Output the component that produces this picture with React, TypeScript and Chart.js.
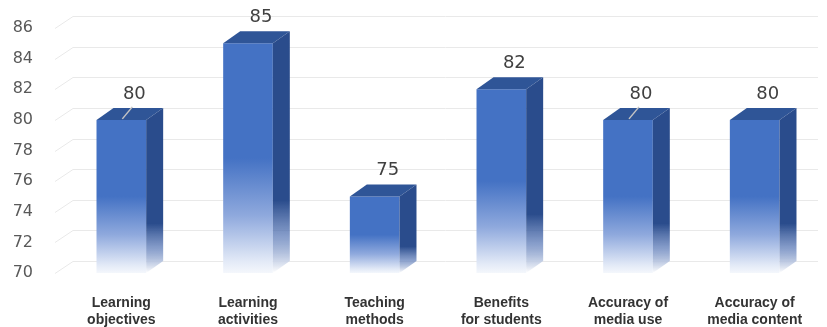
import { useEffect, useRef } from "react";
import { Chart, registerables } from "chart.js";

Chart.register(...registerables);

const categories: string[][] = [
  ["Learning", "objectives"],
  ["Learning", "activities"],
  ["Teaching", "methods"],
  ["Benefits", "for students"],
  ["Accuracy of", "media use"],
  ["Accuracy of", "media content"],
];
const values: number[] = [80, 85, 75, 82, 80, 80];
const yTicks: number[] = [70, 72, 74, 76, 78, 80, 82, 84, 86];
const leaderLines: boolean[] = [true, false, false, false, true, false];

const DX = 17;
const DY = -12;
const FRONT = "#4472C4";
const TOP = "#2F5597";
const SIDE = "#2A4C8C";

const threeD = {
  id: "threeD",
  beforeDatasetsDraw(chart: any) {
    const { ctx, chartArea, scales } = chart;
    const y = scales.y;
    ctx.save();
    ctx.strokeStyle = "#e9e9e9";
    ctx.lineWidth = 1;
    y.ticks.forEach((t: any) => {
      const py = Math.round(y.getPixelForValue(t.value)) + 0.5;
      ctx.beginPath();
      ctx.moveTo(chartArea.left - 3, py);
      ctx.lineTo(chartArea.left - 3 + DX + 1, py + DY);
      ctx.lineTo(chartArea.right, py + DY);
      ctx.stroke();
    });
    ctx.restore();
  },
  afterDatasetsDraw(chart: any) {
    const { ctx, scales } = chart;
    const ys = scales.y;
    const base = ys.getPixelForValue(ys.min);
    const meta = chart.getDatasetMeta(0);
    ctx.save();
    meta.data.forEach((el: any, i: number) => {
      const { x, y, width } = el.getProps(["x", "y", "width"], true);
      const l = x - width / 2;
      const r = x + width / 2;
      // top face
      ctx.fillStyle = TOP;
      ctx.beginPath();
      ctx.moveTo(l, y);
      ctx.lineTo(l + DX, y + DY);
      ctx.lineTo(r + DX, y + DY);
      ctx.lineTo(r, y);
      ctx.closePath();
      ctx.fill();
      // side face
      const g = ctx.createLinearGradient(0, y + DY, 0, base);
      g.addColorStop(0, SIDE);
      g.addColorStop(0.7, SIDE);
      g.addColorStop(0.85, "rgba(95,125,185,0.75)");
      g.addColorStop(1, "rgba(255,255,255,1)");
      ctx.fillStyle = g;
      ctx.beginPath();
      ctx.moveTo(r, y);
      ctx.lineTo(r + DX, y + DY);
      ctx.lineTo(r + DX, base + DY);
      ctx.lineTo(r, base);
      ctx.closePath();
      ctx.fill();
      // leader line
      if (leaderLines[i]) {
        ctx.strokeStyle = "#c4c4c4";
        ctx.lineWidth = 1.5;
        ctx.beginPath();
        ctx.moveTo(x + 1, y - 1);
        ctx.lineTo(x + 11, y - 13);
        ctx.stroke();
      }
      // value label
      ctx.fillStyle = "#404040";
      ctx.font = "18px 'DejaVu Sans'";
      ctx.textAlign = "center";
      ctx.textBaseline = "middle";
      ctx.fillText(String(values[i]), x + 13, y - 26);
    });
    ctx.restore();
  },
};

export default function App() {
  const ref = useRef<HTMLCanvasElement | null>(null);
  useEffect(() => {
    if (!ref.current) return;
    const chart = new Chart(ref.current, {
      type: "bar",
      data: {
        labels: categories,
        datasets: [
          {
            data: values,
            base: 70,
            categoryPercentage: 0.8,
            barPercentage: 0.49,
            borderWidth: 0,
            backgroundColor: (c: any) => {
              const ch = c.chart;
              const ys = ch.scales && ch.scales.y;
              if (!ys || c.type !== "data" || c.raw == null) return FRONT;
              const top = ys.getPixelForValue(c.raw);
              const base = ys.getPixelForValue(ys.min);
              if (!isFinite(top) || !isFinite(base)) return FRONT;
              const g = ch.ctx.createLinearGradient(0, top, 0, base);
              g.addColorStop(0, FRONT);
              g.addColorStop(0.5, FRONT);
              g.addColorStop(0.75, "#8fa9dd");
              g.addColorStop(0.95, "#e3eaf7");
              g.addColorStop(1, "#f4f7fc");
              return g;
            },
          },
        ],
      },
      options: {
        responsive: false,
        animation: false,
        layout: { padding: { top: 28, right: 9, left: 0, bottom: 0 } },
        plugins: {
          legend: { display: false },
          tooltip: { enabled: false },
        },
        scales: {
          x: {
            grid: { display: false, drawTicks: false },
            border: { display: false },
            ticks: {
              color: "#333333",
              font: { family: "'Liberation Sans', Arial, sans-serif", size: 14, weight: "bold" },
              padding: 22,
              maxRotation: 0,
              autoSkip: false,
            },
            afterFit: (s: any) => {
              s.height = 54;
            },
          },
          y: {
            min: 70,
            max: 86,
            grid: { display: false, drawTicks: false },
            border: { display: false },
            ticks: {
              color: "#595959",
              font: { family: "'DejaVu Sans', sans-serif", size: 16 },
              padding: 25,
            },
            afterBuildTicks: (s: any) => {
              s.ticks = yTicks.map((v) => ({ value: v }));
            },
            afterFit: (s: any) => {
              s.width = 58;
              s.paddingTop = 0;
              s.paddingBottom = 0;
            },
          },
        },
      },
      plugins: [threeD],
    } as any);
    return () => chart.destroy();
  }, []);
  return (
    <div style={{ position: "fixed", left: 0, top: 0, width: 827, height: 327, background: "#fff" }}>
      <canvas ref={ref} width={827} height={327} />
    </div>
  );
}
